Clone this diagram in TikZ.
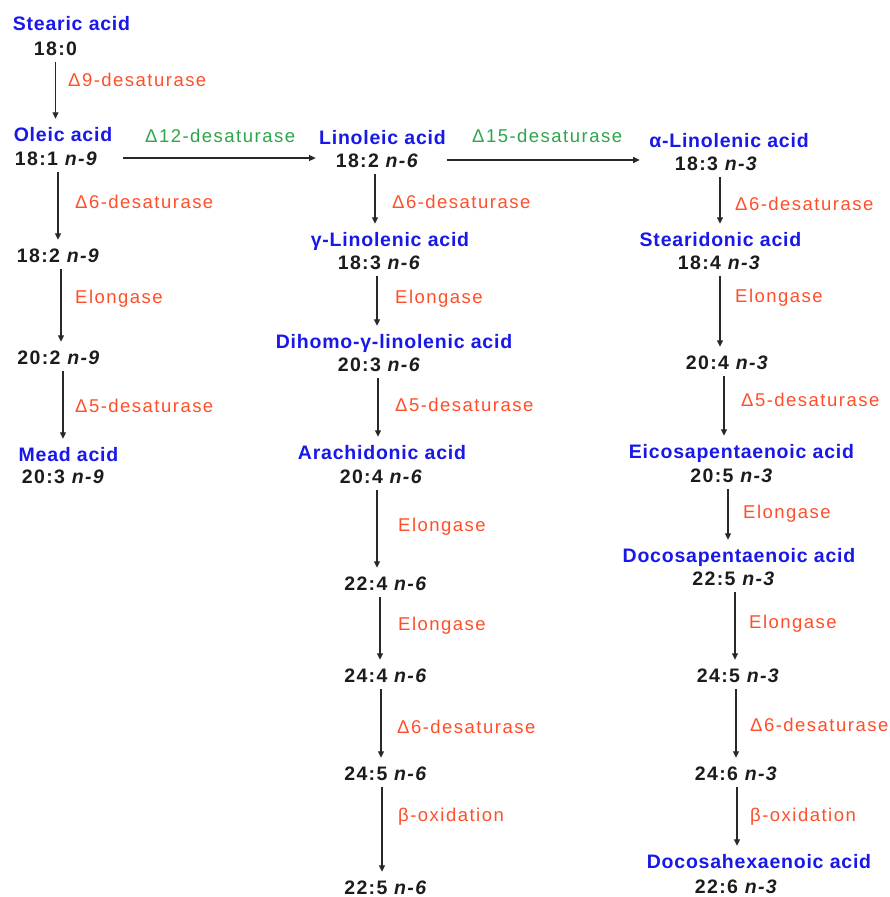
\documentclass[tikz,border=0pt]{standalone}
\usepackage{fontspec}
\setmainfont{Liberation Sans}
\newfontfamily\namefont{Liberation Sans}[LetterSpace=4]
\newfontfamily\numfont{Liberation Sans}[LetterSpace=7]
\newfontfamily\enzfont{Liberation Sans}[LetterSpace=8]
\usetikzlibrary{arrows.meta}
\definecolor{nameblue}{RGB}{24,24,232}
\definecolor{enzred}{RGB}{255,78,42}
\definecolor{enzgreen}{RGB}{44,166,74}
\definecolor{numblack}{RGB}{28,28,28}
\definecolor{arrowgray}{RGB}{40,40,40}
\tikzset{
  acid/.style={font=\namefont\bfseries\fontsize{19.5}{22}\selectfont, text=nameblue,
    inner sep=0pt, text height=14pt, text depth=0pt, anchor=center},
  chain/.style={font=\numfont\bfseries\fontsize{19.5}{22}\selectfont, text=numblack,
    inner sep=0pt, text height=14pt, text depth=0pt, anchor=center},
  enzyme/.style={font=\enzfont\fontsize{18.5}{21}\selectfont, text=enzred,
    inner sep=0pt, text height=13.2pt, text depth=0pt, anchor=west},
  enzymeg/.style={enzyme, text=enzgreen},
  flow/.style={draw=arrowgray, line width=1.1pt, -{Triangle[length=6.5pt,width=6pt]},
    shorten <=7pt, shorten >=8pt},
}
\newcommand\fa[1]{\textit{#1}}
\newcommand\vflow[3]{\draw[flow] ([xshift=#3]#1.south) -- ([xshift=#3]#1.south |- #2.north);}
\begin{document}
\begin{tikzpicture}[x=1pt,y=-1pt]
\useasboundingbox (0,0) rectangle (890,897);
\fill[white] (0,0) rectangle (890,897);

% n-9 branch
\node[acid]  (sa)     at (71.5,23)  {Stearic acid};
\node[chain] (f180)   at (55.5,48)  {18:0};
\node[acid]  (oa)     at (63,134)   {Oleic acid};
\node[chain] (f181)   at (56.5,158) {18:1 \fa{n-9}};
\node[chain] (f182n9) at (58.5,255) {18:2 \fa{n-9}};
\node[chain] (f202n9) at (59,357)   {20:2 \fa{n-9}};
\node[acid]  (mead)   at (68.5,454) {Mead acid};
\node[chain] (f203n9) at (63.5,476) {20:3 \fa{n-9}};

% n-6 branch
\node[acid]  (la)     at (382.5,137) {Linoleic acid};
\node[chain] (f182n6) at (377.5,160) {18:2 \fa{n-6}};
\node[acid]  (gla)    at (390,239)   {γ-Linolenic acid};
\node[chain] (f183n6) at (379.5,262) {18:3 \fa{n-6}};
\node[acid]  (dgla)   at (394,341)   {Dihomo-γ-linolenic acid};
\node[chain] (f203n6) at (379.5,364) {20:3 \fa{n-6}};
\node[acid]  (ara)    at (382,452)   {Arachidonic acid};
\node[chain] (f204n6) at (381.5,476) {20:4 \fa{n-6}};
\node[chain] (f224n6) at (386,583)   {22:4 \fa{n-6}};
\node[chain] (f244n6) at (386,675)   {24:4 \fa{n-6}};
\node[chain] (f245n6) at (386,773)   {24:5 \fa{n-6}};
\node[chain] (f225n6) at (386,887)   {22:5 \fa{n-6}};

% n-3 branch
\node[acid]  (ala)    at (729,140)   {α-Linolenic acid};
\node[chain] (f183n3) at (716.5,163) {18:3 \fa{n-3}};
\node[acid]  (sda)    at (720.5,239) {Stearidonic acid};
\node[chain] (f184n3) at (719.5,262) {18:4 \fa{n-3}};
\node[chain] (f204n3) at (727.5,362) {20:4 \fa{n-3}};
\node[acid]  (epa)    at (741.5,451) {Eicosapentaenoic acid};
\node[chain] (f205n3) at (732,475)   {20:5 \fa{n-3}};
\node[acid]  (dpa)    at (739,555)   {Docosapentaenoic acid};
\node[chain] (f225n3) at (734,578)   {22:5 \fa{n-3}};
\node[chain] (f245n3) at (738.5,675) {24:5 \fa{n-3}};
\node[chain] (f246n3) at (736.5,773) {24:6 \fa{n-3}};
\node[acid]  (dha)    at (759,861)   {Docosahexaenoic acid};
\node[chain] (f226n3) at (736.5,886) {22:6 \fa{n-3}};

% enzyme labels
\node[enzyme]  (e1)  at (68,80)   {Δ9-desaturase};
\node[enzymeg] (e2)  at (145,136) {Δ12-desaturase};
\node[enzyme]  (e3)  at (75,202)  {Δ6-desaturase};
\node[enzyme]  (e4)  at (75,297)  {Elongase};
\node[enzyme]  (e5)  at (75,406)  {Δ5-desaturase};
\node[enzymeg] (e6)  at (472,136) {Δ15-desaturase};
\node[enzyme]  (e7)  at (392,202) {Δ6-desaturase};
\node[enzyme]  (e8)  at (395,297) {Elongase};
\node[enzyme]  (e9)  at (395,405) {Δ5-desaturase};
\node[enzyme]  (e10) at (398,525) {Elongase};
\node[enzyme]  (e11) at (398,624) {Elongase};
\node[enzyme]  (e12) at (397,727) {Δ6-desaturase};
\node[enzyme]  (e13) at (398,815) {β-oxidation};
\node[enzyme]  (e14) at (735,204) {Δ6-desaturase};
\node[enzyme]  (e15) at (735,296) {Elongase};
\node[enzyme]  (e16) at (741,400) {Δ5-desaturase};
\node[enzyme]  (e17) at (743,512) {Elongase};
\node[enzyme]  (e18) at (749,622) {Elongase};
\node[enzyme]  (e19) at (750,725) {Δ6-desaturase};
\node[enzyme]  (e20) at (750,815) {β-oxidation};

% vertical reaction arrows
\vflow{f180}{oa}{0pt}
\vflow{f181}{f182n9}{1.5pt}
\vflow{f182n9}{f202n9}{2.5pt}
\vflow{f202n9}{mead}{4pt}

\vflow{f182n6}{gla}{-2.5pt}
\vflow{f183n6}{dgla}{-2.5pt}
\vflow{f203n6}{ara}{-1.5pt}
\vflow{f204n6}{f224n6}{-4.5pt}
\vflow{f224n6}{f244n6}{-6pt}
\vflow{f244n6}{f245n6}{-5pt}
\vflow{f245n6}{f225n6}{-4pt}

\vflow{f183n3}{sda}{3.5pt}
\vflow{f184n3}{f204n3}{0.5pt}
\vflow{f204n3}{epa}{-3.5pt}
\vflow{f205n3}{dpa}{-4pt}
\vflow{f225n3}{f245n3}{1pt}
\vflow{f245n3}{f246n3}{-2.5pt}
\vflow{f246n3}{dha}{0.5pt}

% horizontal desaturation arrows
\draw[flow, shorten <=25pt, shorten >=20pt] (f181.east) -- (f181.east -| f182n6.west);
\draw[flow, shorten <=28pt, shorten >=35pt] (f182n6.east) -- (f182n6.east -| f183n3.west);
\end{tikzpicture}
\end{document}
